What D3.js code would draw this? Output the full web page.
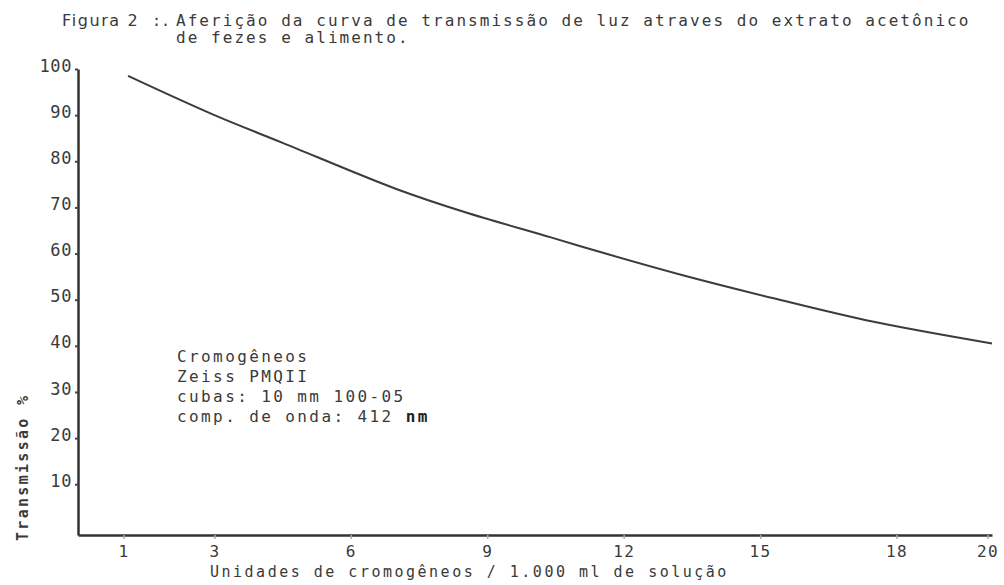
<!DOCTYPE html>
<html>
<head>
<meta charset="utf-8">
<script src="https://cdn.jsdelivr.net/npm/d3@7"></script>
<style>
  body { margin: 0; background: #fff; }
  text { fill: #3a3a3a; font-family: "DejaVu Sans Mono", "Liberation Mono", monospace; }
</style>
</head>
<body>
<div id="chart"></div>
<script>
// curve
var units = [1.1, 3, 4.5, 7, 8.5, 10.4, 11.6, 13.3, 15.3, 17.5, 20.1];
var transmission = [98.5, 90, 84, 74, 69, 63.5, 60, 55.3, 50.3, 45.2, 40.5];

var xTicks = [1, 3, 6, 9, 12, 15, 18, 20];
var yTicks = [10, 20, 30, 40, 50, 60, 70, 80, 90, 100];

var titleLines = ["Aferição da curva de transmissão de luz atraves do extrato acetônico",
                  "de fezes e alimento."];
var noteLines = ["Cromogêneos", "Zeiss PMQII", "cubas: 10 mm 100-05", "comp. de onda: 412 "];

var width = 1004, height = 585;

var svg = d3.select("#chart")
  .append("svg")
    .attr("width", width)
    .attr("height", height);

// X axis
var x = d3.scaleLinear()
  .domain([0, 20.1])
  .range([78, 992]);

// Y axis
var y = d3.scaleLinear()
  .domain([-1, 100])
  .range([535, 69]);

var xAxis = svg.append("g")
  .attr("transform", "translate(0,535)")
  .call(d3.axisBottom(x).tickValues(xTicks).tickSize(4).tickPadding(7).tickSizeOuter(0));

xAxis.select(".domain").attr("stroke", "#333").attr("stroke-width", 2.5);
xAxis.selectAll(".tick line").attr("stroke", "#aaa").attr("stroke-width", 1.5);
xAxis.selectAll("text")
  .attr("font-size", 16)
  .style("letter-spacing", "1.4px")
  .attr("fill", "#3a3a3a");

var yAxis = svg.append("g")
  .attr("transform", "translate(78,0)")
  .call(d3.axisLeft(y).tickValues(yTicks).tickSize(3).tickPadding(3).tickSizeOuter(0));

yAxis.select(".domain").attr("stroke", "#333").attr("stroke-width", 2.5);
yAxis.selectAll(".tick line").attr("stroke", "#444").attr("stroke-width", 2);
yAxis.selectAll("text")
  .attr("font-size", 17)
  .attr("dy", "0.12em")
  .style("letter-spacing", "0.6px")
  .attr("fill", "#333");

// the curve
var line = d3.line()
  .x(function(d, i) { return x(units[i]); })
  .y(function(d) { return y(d); })
  .curve(d3.curveCatmullRom);

svg.append("path")
  .datum(transmission)
  .attr("d", line)
  .attr("fill", "none")
  .attr("stroke", "#3c3c3c")
  .attr("stroke-width", 2);

// title
svg.append("text")
  .attr("x", 62)
  .attr("y", 26)
  .attr("font-size", 16)
  .style("font-family", "'DejaVu Sans', sans-serif")
  .style("letter-spacing", "1.6px")
  .text("Figura 2");

svg.append("text")
  .attr("x", 152)
  .attr("y", 26)
  .attr("font-size", 15)
  .attr("fill", "#999")
  .text(":.");

svg.selectAll(".title")
  .data(titleLines)
  .enter()
  .append("text")
    .attr("class", "title")
    .attr("x", 176)
    .attr("y", function(d, i) { return 26 + i * 17; })
    .attr("font-size", 16)
    .style("letter-spacing", "2.05px")
    .text(function(d) { return d; });

// note block
var note = svg.selectAll(".note")
  .data(noteLines)
  .enter()
  .append("text")
    .attr("class", "note")
    .attr("x", 177)
    .attr("y", function(d, i) { return 362 + i * 20; })
    .attr("font-size", 16)
    .style("letter-spacing", "2.4px")
    .text(function(d) { return d; });

note.filter(function(d, i) { return i == noteLines.length - 1; })
  .append("tspan")
    .attr("font-weight", "bold")
    .attr("fill", "#222")
    .text("nm");

// X axis label
svg.append("text")
  .attr("x", 210)
  .attr("y", 577)
  .attr("font-size", 15)
  .style("letter-spacing", "2.5px")
  .text("Unidades de cromogêneos / 1.000 ml de solução");

// Y axis label
svg.append("text")
  .attr("transform", "translate(28,541)rotate(-90)")
  .attr("font-size", 15)
  .attr("font-weight", "bold")
  .style("letter-spacing", "2.3px")
  .text("Transmissão %");
</script>
</body>
</html>
